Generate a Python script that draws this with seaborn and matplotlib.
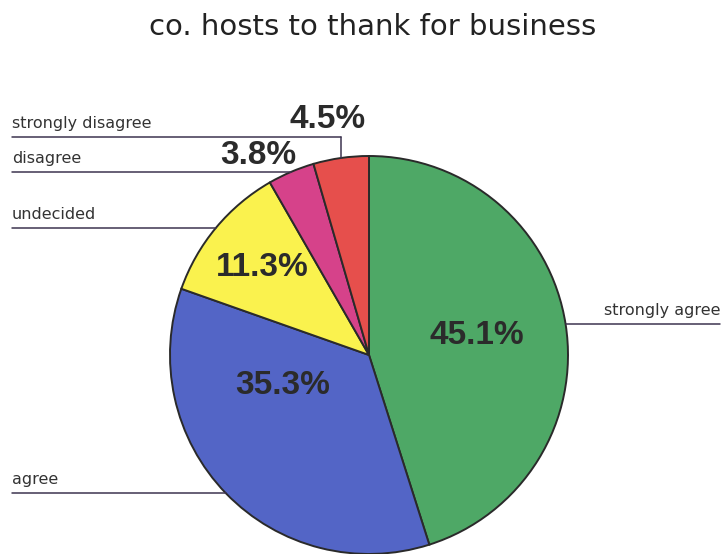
import numpy as np
import matplotlib
matplotlib.use("Agg")
import matplotlib.pyplot as plt
import seaborn as sns

# Survey answers, clockwise from 12 o'clock.
categories = ["strongly agree", "agree", "undecided", "disagree", "strongly disagree"]
percents = [45.1, 35.3, 11.3, 3.8, 4.5]
colors = ["#4ea866", "#5365c6", "#faf24e", "#d6428a", "#e64f4c"]
title = "co. hosts to thank for business"

sns.set_theme(style="white")
plt.rcParams["font.family"] = ["Liberation Sans", "DejaVu Sans"]

W, H = 721, 554
fig = plt.figure(figsize=(W / 100, H / 100), dpi=100)
ax = fig.add_axes([0, 0, 1, 1])

# Work in pixel units, y measured upward.
cx, cy, r = 369, H - 355, 199
wedges, _, autotexts = ax.pie(
    percents, colors=colors, startangle=90, counterclock=False,
    center=(cx, cy), radius=r, autopct="%.1f%%",
    wedgeprops=dict(edgecolor="#2a2a2a", linewidth=1.4),
    textprops=dict(fontsize=24, fontweight="bold", color="#2b2b2b",
                   family="Liberation Sans"),
)
ax.set_xlim(0, W)
ax.set_ylim(0, H)
ax.set_aspect("equal")
ax.axis("off")

# Percentage label positions (pixels from top-left), same order as categories.
pct_pos = [(477, 335), (283, 385), (262, 268), (258, 155), (328, 120)]
for t, (x, y) in zip(autotexts, pct_pos):
    t.set_position((x, H - y))
    t.set_ha("center")
    t.set_va("center")

# Category labels with leader lines from wedge mid-points.
line_y = {"strongly disagree": 137}
label_side = {"strongly agree": "right"}
line_col = "#3d3450"
for w, name in zip(wedges, categories):
    mid = np.deg2rad((w.theta1 + w.theta2) / 2)
    ex, ey = cx + r * np.cos(mid), cy + r * np.sin(mid)
    if label_side.get(name) == "right":
        ax.plot([ex, 720], [ey, ey], color=line_col, lw=1.1)
        ax.text(604, ey + 6, name, fontsize=11.5, color="#333333",
                ha="left", va="bottom", family="DejaVu Sans")
        continue
    ly = H - line_y[name] if name in line_y else ey
    if name in line_y:
        ax.plot([ex, ex], [ey, ly], color=line_col, lw=1.1)
    ax.plot([12, ex], [ly, ly], color=line_col, lw=1.1)
    ax.text(12, ly + 6, name, fontsize=11.5, color="#333333",
            ha="left", va="bottom", family="DejaVu Sans")

fig.text(373 / W, 1 - 27 / H, title, fontsize=21, color="#222222",
         ha="center", va="center", family="DejaVu Sans")

fig.savefig("out.png", dpi=100)
